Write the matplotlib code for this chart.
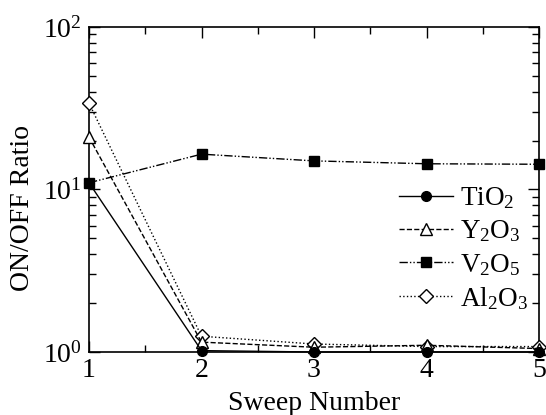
import matplotlib
matplotlib.use("Agg")
import matplotlib.pyplot as plt
from matplotlib.ticker import LogLocator, MultipleLocator, NullFormatter

plt.rcParams["font.family"] = ["Liberation Serif", "DejaVu Serif"]
plt.rcParams["mathtext.fontset"] = "custom"
plt.rcParams["mathtext.rm"] = "Liberation Serif"
plt.rcParams["mathtext.it"] = "Liberation Serif:italic"

sweep = [1, 2, 3, 4, 5]
tio2 = [11.0, 1.02, 1.0, 1.0, 1.0]
y2o3 = [21.0, 1.15, 1.07, 1.10, 1.05]
v2o5 = [11.0, 16.5, 15.0, 14.4, 14.3]
al2o3 = [34.0, 1.25, 1.12, 1.08, 1.08]

fig = plt.figure(figsize=[5.46, 4.15], dpi=100)
ax = fig.add_axes([89/546, 1-352/415, 450/546, 325/415])

ax.plot(sweep, tio2, "-", color="k", lw=1, marker="o", ms=7, mfc="k", label=r"TiO$_2$", clip_on=False, zorder=5)
ax.plot(sweep, y2o3, "--", color="k", lw=1, marker="^", ms=8, mfc="white", label=r"Y$_2$O$_3$", clip_on=False, zorder=4)
ax.plot(sweep, v2o5, color="k", lw=1, ls=(0, (6, 1.5, 1, 1.5, 1, 1.5)), marker="s", ms=7, mfc="k", label=r"V$_2$O$_5$", clip_on=False, zorder=4)
ax.plot(sweep, al2o3, ":", color="k", lw=1, marker="D", ms=7, mfc="white", label=r"Al$_2$O$_3$", clip_on=False, zorder=3)

ax.set_yscale("log")
ax.set_xlim(1, 5)
ax.set_ylim(1, 100)
ax.xaxis.set_major_locator(MultipleLocator(1))
ax.xaxis.set_minor_locator(MultipleLocator(0.5))
ax.yaxis.set_major_locator(LogLocator(base=10, numticks=5))
ax.yaxis.set_minor_locator(LogLocator(base=10, subs=range(2, 10), numticks=20))
ax.yaxis.set_minor_formatter(NullFormatter())

ax.tick_params(which="both", direction="in", top=True, right=True, labelsize=20, width=1)
ax.tick_params(which="major", length=8)
ax.tick_params(axis="x", which="major", pad=4)
ax.tick_params(axis="y", which="major", pad=5)
ax.tick_params(which="minor", length=5)
for s in ax.spines.values():
    s.set_linewidth(1.2)

ax.set_xlabel("Sweep Number", fontsize=20, labelpad=6)
ax.set_ylabel("ON/OFF Ratio", fontsize=20)
ax.yaxis.set_label_coords(-0.12, 0.443)

ax.legend(loc="lower right", bbox_to_anchor=(1.0, 0.09), frameon=False, fontsize=19.5,
          handlelength=2.0, handletextpad=0.25, labelspacing=0.27, borderaxespad=0.0)

plt.savefig("out.png", dpi=100)
